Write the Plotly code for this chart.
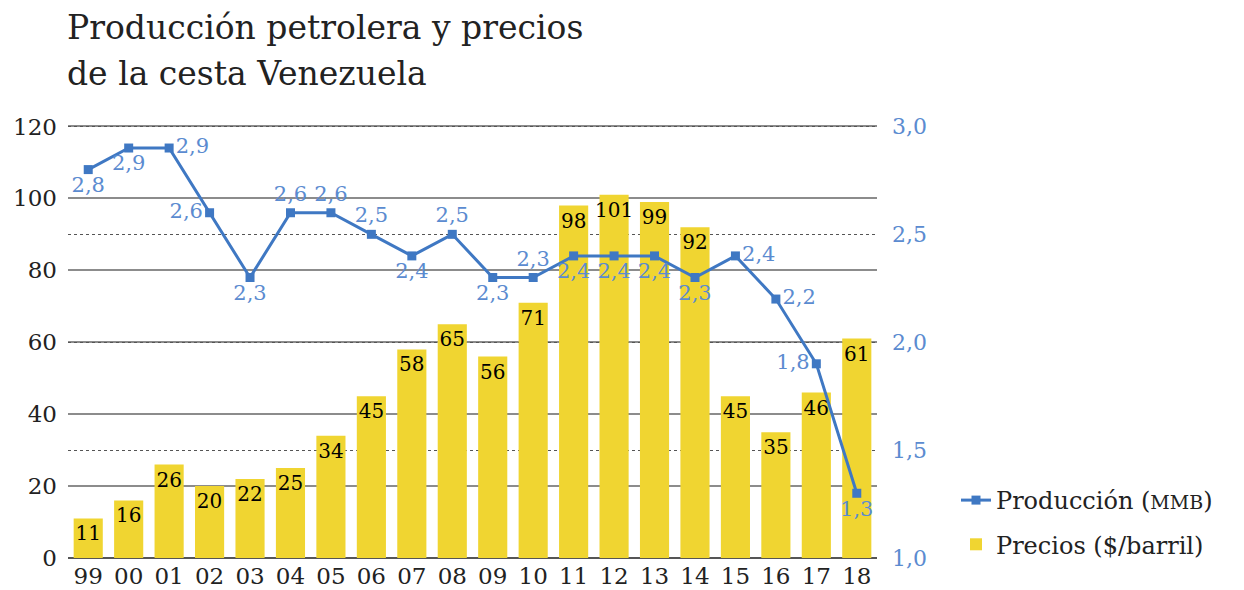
import plotly.graph_objects as go

years = ["99", "00", "01", "02", "03", "04", "05", "06", "07", "08",
         "09", "10", "11", "12", "13", "14", "15", "16", "17", "18"]
precios = [11, 16, 26, 20, 22, 25, 34, 45, 58, 65, 56, 71, 98, 101, 99, 92, 45, 35, 46, 61]
produccion = [2.8, 2.9, 2.9, 2.6, 2.3, 2.6, 2.6, 2.5, 2.4, 2.5,
              2.3, 2.3, 2.4, 2.4, 2.4, 2.3, 2.4, 2.2, 1.9, 1.3]
produccion_labels = ["2,8", "2,9", "2,9", "2,6", "2,3", "2,6", "2,6", "2,5", "2,4", "2,5",
                     "2,3", "2,3", "2,4", "2,4", "2,4", "2,3", "2,4", "2,2", "1,8", "1,3"]
label_pos = ["bottom center", "bottom center", "middle right", "middle left", "bottom center",
             "top center", "top center", "top center", "bottom center", "top center",
             "bottom center", "top center", "bottom center", "bottom center", "bottom center",
             "bottom center", "middle right", "middle right", "middle left", "bottom center"]

FONT = "DejaVu Serif"
YELLOW = "#F0D531"
BLUE = "#3F78C3"
LBLUE = "#5B8BD0"

# the page body has an 8px margin, so the figure is drawn 8px smaller and offset
OFF = 8
W, H = 1244 - OFF, 590 - OFF
PAD = 0.4  # a little headroom so the top gridline at 120 is drawn

fig = go.Figure()

fig.add_trace(go.Scatter(
    x=years, y=produccion, legendgroup="a",
    name="Producción (<span style='font-size:19px'>MMB</span>)",
    mode="lines+markers+text",
    line=dict(color=BLUE, width=3),
    marker=dict(symbol="square", size=9, color=BLUE),
    text=produccion_labels, textposition=label_pos,
    textfont=dict(family=FONT, size=21, color=LBLUE),
    yaxis="y2", cliponaxis=False,
))

fig.add_trace(go.Bar(
    x=years, y=precios, name="Precios ($/barril)", legendgroup="b",
    marker=dict(color=YELLOW, line=dict(width=0)),
    text=[str(v) for v in precios], textposition="inside", insidetextanchor="end",
    textangle=0,
    textfont=dict(family=FONT, size=20, color="black"),
    yaxis="y",
))

fig.update_layout(
    width=W, height=H,
    margin=dict(l=68 - OFF, r=W - (877 - OFF), t=125 - OFF, b=H - (558 - OFF)),
    paper_bgcolor="white", plot_bgcolor="white",
    separators=", ",
    bargap=0.28,
    uniformtext=dict(mode="show", minsize=20),
    font=dict(family=FONT, size=22, color="#222"),
    xaxis=dict(type="category", range=[-0.5, len(years) - 0.5], showgrid=False, ticks="",
               automargin=False, tickfont=dict(size=23, color="#222"), ticklabelstandoff=2),
    yaxis=dict(range=[0, 120 + PAD], tickvals=[0, 20, 40, 60, 80, 100, 120],
               showgrid=True, gridcolor="#8c8c8c", gridwidth=2,
               zeroline=True, zerolinecolor="#555", zerolinewidth=2, automargin=False,
               tickfont=dict(size=23, color="#222"), ticks="", ticklabelstandoff=10),
    yaxis2=dict(range=[1, 3 + PAD / 60], tickvals=[1.0, 1.5, 2.0, 2.5, 3.0], tickformat=".1f",
                overlaying="y", side="right", automargin=False,
                showgrid=True, gridcolor="#555", griddash="dot", gridwidth=1,
                zeroline=False, tickfont=dict(size=22, color=LBLUE), ticks="",
                ticklabelstandoff=14),
    legend=dict(x=(956 - 68) / 809, xanchor="left", y=(558 - 478) / 433, yanchor="top",
                font=dict(family=FONT, size=24, color="#222"),
                traceorder="grouped", tracegroupgap=10,
                bgcolor="rgba(0,0,0,0)", itemwidth=30),
    showlegend=True,
    annotations=[
        dict(text="Producción petrolera y precios", xref="paper", yref="paper",
             x=0, y=(558 - 49) / 433, xanchor="left", yanchor="bottom", showarrow=False,
             font=dict(family=FONT, size=33, color="#222"), xshift=-3),
        dict(text="de la cesta Venezuela", xref="paper", yref="paper",
             x=0, y=(558 - 95) / 433, xanchor="left", yanchor="bottom", showarrow=False,
             font=dict(family=FONT, size=33, color="#222"), xshift=-3),
    ],
)

fig.write_html("out.html")
